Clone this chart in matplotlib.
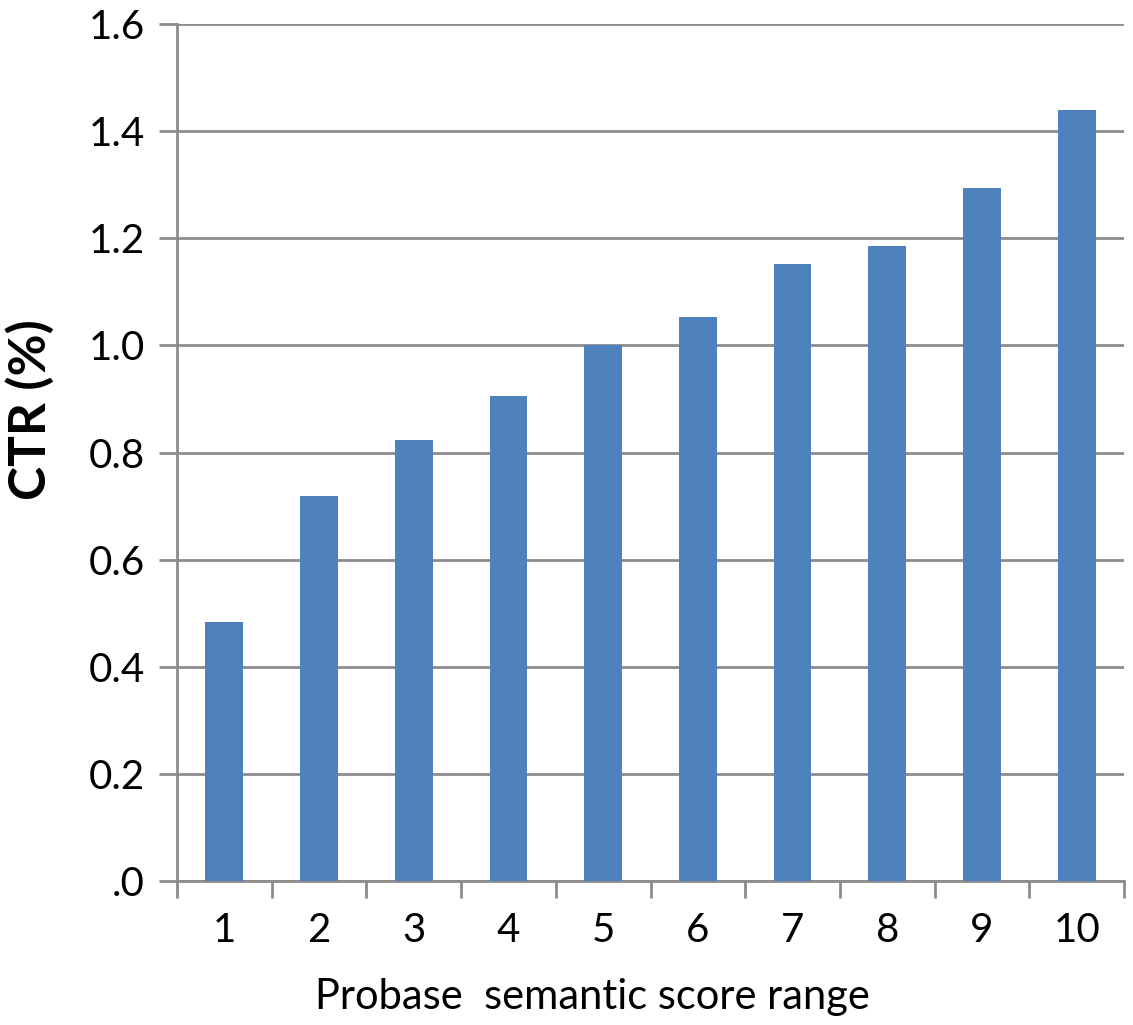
import matplotlib
matplotlib.use("Agg")
import matplotlib.pyplot as plt
import numpy as np

categories = ["1", "2", "3", "4", "5", "6", "7", "8", "9", "10"]
ctr = [0.483, 0.719, 0.823, 0.906, 1.000, 1.053, 1.151, 1.185, 1.293, 1.440]
yticks = [0.0, 0.2, 0.4, 0.6, 0.8, 1.0, 1.2, 1.4, 1.6]
ytick_labels = [".0", "0.2", "0.4", "0.6", "0.8", "1.0", "1.2", "1.4", "1.6"]

plt.rcParams['font.family'] = ['Lato', 'DejaVu Sans']

fig = plt.figure(figsize=(11.33, 10.25), dpi=100)
ax = fig.add_axes([177/1133, 1 - 881/1025, (1124 - 177)/1133, (881 - 24)/1025])

x = np.arange(len(categories))
ax.bar(x, ctr, width=0.4, color="#4F81BD", zorder=3)

ax.set_xlim(-0.5, len(categories) - 0.5)
ax.set_ylim(0, 1.6)
ax.set_yticks(yticks)
ax.set_yticklabels(ytick_labels, fontsize=29)
ax.set_xticks(x)
ax.set_xticklabels(categories, fontsize=29)
ax.set_xticks(np.arange(len(categories) + 1) - 0.5, minor=True)

ax.grid(axis="y", color="#8c8c8c", linewidth=2, zorder=0)
for s in ["top", "right"]:
    ax.spines[s].set_visible(False)
for s in ["left", "bottom"]:
    ax.spines[s].set_color("#8c8c8c")
    ax.spines[s].set_linewidth(2)

ax.tick_params(axis="y", length=13, width=2, color="#8c8c8c", pad=10)
ax.tick_params(axis="x", which="major", length=0, pad=22)
ax.tick_params(axis="x", which="minor", length=12, width=2, color="#8c8c8c")

ax.set_xlabel("Probase  semantic score range", fontsize=30)
ax.xaxis.set_label_coords((592 - 177) / 947, -(997 - 881) / 857, transform=ax.transAxes)
ax.xaxis.label.set_va("center")
ax.set_ylabel("CTR (%)", fontsize=37, fontweight="bold")
ax.yaxis.set_label_coords(-(177 - 30) / 947, (881 - 410) / 857, transform=ax.transAxes)
ax.yaxis.label.set_va("center")

fig.savefig("out.png", dpi=100)
